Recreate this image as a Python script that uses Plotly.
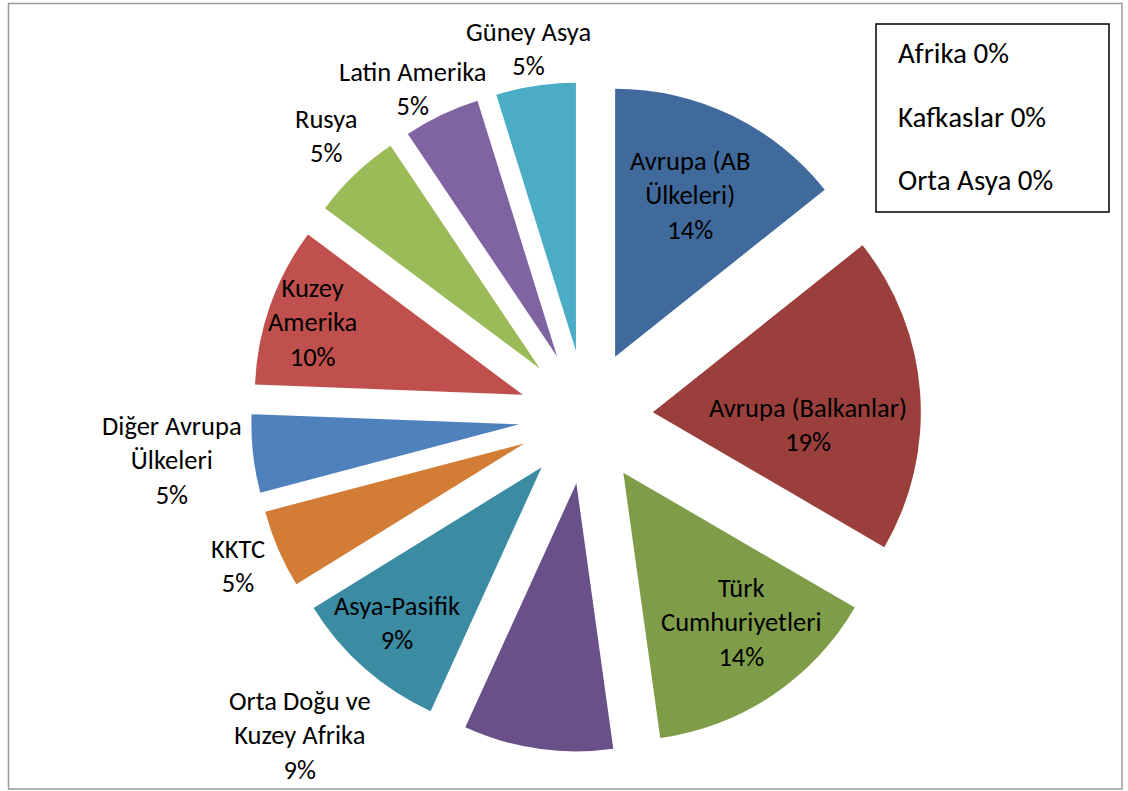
import plotly.graph_objects as go

W, H = 1128, 791

# ---- data ----
regions = ["Avrupa (AB<br>Ülkeleri)", "Avrupa (Balkanlar)", "Türk<br>Cumhuriyetleri",
           "Orta Doğu ve<br>Kuzey Afrika", "Asya-Pasifik", "KKTC",
           "Diğer Avrupa<br>Ülkeleri", "Kuzey<br>Amerika", "Rusya",
           "Latin Amerika", "Güney Asya"]
shares = [14.3, 19.1, 14.4, 9.0, 9.4, 4.7, 4.7, 9.6, 5.4, 4.6, 4.8]
zero_regions = ["Afrika", "Kafkaslar", "Orta Asya"]
zero_shares = [0, 0, 0]

# ---- styles ----
colors = ["#416A9C", "#9B3F3D", "#7F9D48", "#6A5089", "#3B8BA3", "#D27C36",
          "#4F81BD", "#C0504D", "#9BBB59", "#8064A2", "#4BACC6"]
# label anchor positions (pixels, centre of text block)
label_pos = [
    (690, 195), (808, 425), (741, 622), (300, 735), (397, 623), (238, 566),
    (172, 460), (312, 322), (326, 136), (413, 89), (528, 49),
]
FONT = "Carlito, Calibri, Lato, sans-serif"
FS = 26.5
FS_BOX = 29

total = sum(shares) + sum(zero_shares)
pct = [round(v / total * 100) for v in shares]

cx, cy = 586, 417
r_px = 268
pull = 0.25
half = r_px * (1 + pull)

fig = go.Figure(go.Pie(
    labels=regions,
    values=shares,
    textinfo="none",
    marker=dict(colors=colors, line=dict(width=0)),
    sort=False,
    direction="clockwise",
    rotation=0,
    pull=pull,
    hole=0,
    showlegend=False,
    hoverinfo="label+percent",
    domain=dict(x=[(cx - half - 5) / W, (cx + half + 5) / W],
                y=[1 - (cy + half) / H, 1 - (cy - half) / H]),
))

annotations = []
for r, p, (x, y) in zip(regions, pct, label_pos):
    annotations.append(dict(
        text=f"{r}<br>{p}%", x=x / W, y=1 - y / H, xref="paper", yref="paper",
        xanchor="center", yanchor="middle", showarrow=False,
        font=dict(family=FONT, size=FS, color="black"), align="center"))

for i, (r, v) in enumerate(zip(zero_regions, zero_shares)):
    annotations.append(dict(
        text=f"{r} {round(v / total * 100)}%", x=896 / W, y=1 - (53 + 63.5 * i) / H,
        xref="paper", yref="paper", xanchor="left", yanchor="middle",
        showarrow=False, font=dict(family=FONT, size=FS_BOX, color="black")))

shapes = [
    dict(type="rect", xref="paper", yref="paper", x0=8.5 / W, x1=1122 / W,
         y0=1 - 789 / H, y1=1 - 3.5 / H, line=dict(color="#9A9A9A", width=1.5)),
    dict(type="rect", xref="paper", yref="paper", x0=876 / W, x1=1109 / W,
         y0=1 - 212 / H, y1=1 - 24 / H, line=dict(color="black", width=1.5)),
]

fig.update_layout(
    width=W, height=H,
    margin=dict(l=0, r=0, t=0, b=0),
    paper_bgcolor="white",
    plot_bgcolor="white",
    annotations=annotations,
    shapes=shapes,
    font=dict(family=FONT),
)

fig.write_html("out.html", config={"displayModeBar": False},
               post_script="document.body.style.margin='0px';")
